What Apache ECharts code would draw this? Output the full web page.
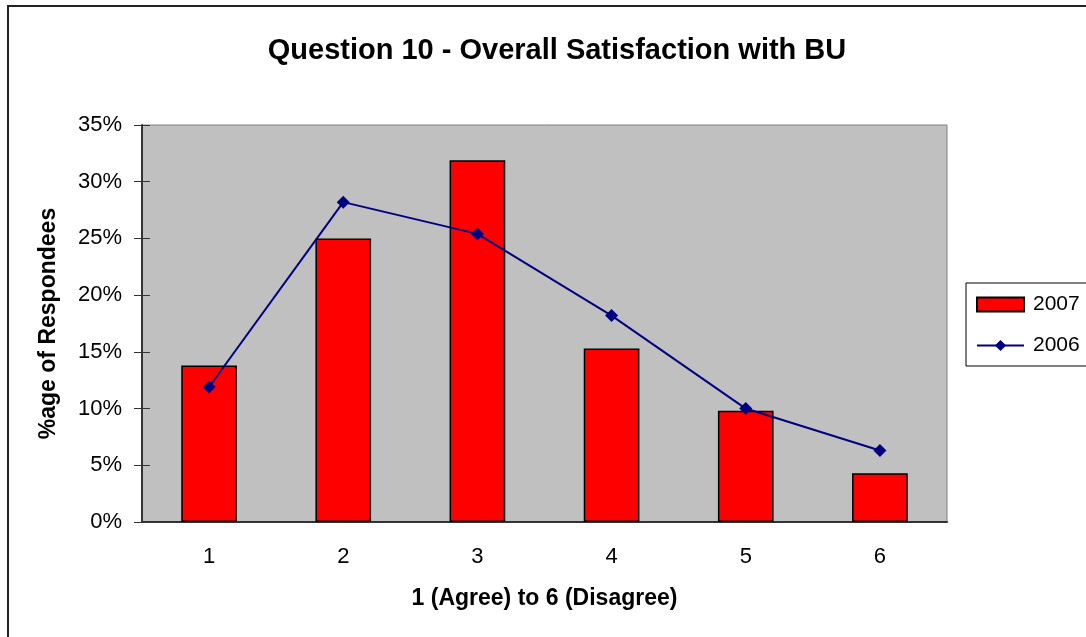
<!DOCTYPE html>
<html>
<head>
<meta charset="utf-8">
<script src="https://cdn.jsdelivr.net/npm/echarts@6/dist/echarts.min.js"></script>
<style>
    html, body { margin: 0; padding: 0; background: #fff; }
    #chart { width: 1086px; height: 637px; }
</style>
</head>
<body>
<div id="chart"></div>
<script>
// 数据
const categories = ['1', '2', '3', '4', '5', '6']
const values2007 = [13.8, 25.0, 31.9, 15.3, 9.8, 4.3]
const values2006 = [11.9, 28.2, 25.4, 18.2, 10.0, 6.3]

const fontFamily = 'Arial, "Liberation Sans", sans-serif'
const myChart = echarts.init(document.getElementById('chart'))

const options = {
    animation: false,
    backgroundColor: '#fff',
    textStyle: { fontFamily },
    // 外边框
    graphic: [{
        type: 'rect',
        shape: { x: 8, y: 6, width: 2000, height: 2000 },
        style: { fill: 'none', stroke: '#222', lineWidth: 2 },
        silent: true
    }],
    title: {
        text: 'Question 10 - Overall Satisfaction with BU',
        left: 552,
        top: 31,
        textAlign: 'center',
        textStyle: { fontSize: 29, fontWeight: 'bold', color: '#000', fontFamily }
    },
    legend: {
        left: 966,
        top: 283,
        orient: 'vertical',
        backgroundColor: '#fff',
        borderColor: '#000',
        borderWidth: 1,
        borderRadius: 0,
        padding: [11, 30, 10, 10],
        itemGap: 20,
        itemWidth: 47,
        itemHeight: 14,
        textStyle: { fontSize: 21, color: '#000', fontFamily, padding: [0, 0, 0, 4] },
        data: [{ name: '2007', icon: 'rect' }, '2006']
    },
    grid: {
        left: 142,
        right: 139,
        top: 125,
        bottom: 115,
        show: true,
        backgroundColor: '#C0C0C0',
        borderColor: '#808080',
        borderWidth: 1
    },
    xAxis: [{
        type: 'category',
        data: categories,
        name: '1 (Agree) to 6 (Disagree)',
        nameLocation: 'middle',
        nameGap: 65,
        nameTextStyle: { fontSize: 23, fontWeight: 'bold', color: '#000' },
        axisLine: { lineStyle: { color: '#333', width: 2 } },
        axisTick: { length: 7, lineStyle: { color: '#333' } },
        axisLabel: { fontSize: 22, color: '#000', margin: 24 }
    }, {
        // 刻度线穿过轴线（内侧部分）
        type: 'category',
        data: categories,
        position: 'bottom',
        axisLine: { show: false },
        axisTick: { inside: true, length: 8, lineStyle: { color: '#333' } },
        axisLabel: { show: false }
    }],
    yAxis: [{
        type: 'value',
        min: 0,
        max: 35,
        interval: 5,
        name: '%age of Respondees',
        nameLocation: 'middle',
        nameGap: 82,
        nameTextStyle: { fontSize: 23, fontWeight: 'bold', color: '#000' },
        axisLine: { show: true, lineStyle: { color: '#333', width: 2 } },
        axisTick: { show: true, length: 8, lineStyle: { color: '#333' } },
        splitLine: { show: false },
        axisLabel: { fontSize: 22, color: '#000', margin: 20, formatter: '{value}%' }
    }, {
        type: 'value',
        min: 0,
        max: 35,
        interval: 5,
        position: 'left',
        offset: 0,
        axisLine: { show: false },
        axisTick: { show: true, inside: true, length: 8, lineStyle: { color: '#333' } },
        splitLine: { show: false },
        axisLabel: { show: false }
    }],
    series: [{
        name: '2007',
        type: 'bar',
        data: values2007,
        barWidth: '41.5%',
        itemStyle: { color: '#FF0000', borderColor: '#000', borderWidth: 1.5 }
    }, {
        name: '2006',
        type: 'line',
        data: values2006,
        symbol: 'diamond',
        symbolSize: 13,
        itemStyle: { color: '#000080' },
        lineStyle: { color: '#000080', width: 2 }
    }]
}

myChart.setOption(options)
</script>
</body>
</html>
